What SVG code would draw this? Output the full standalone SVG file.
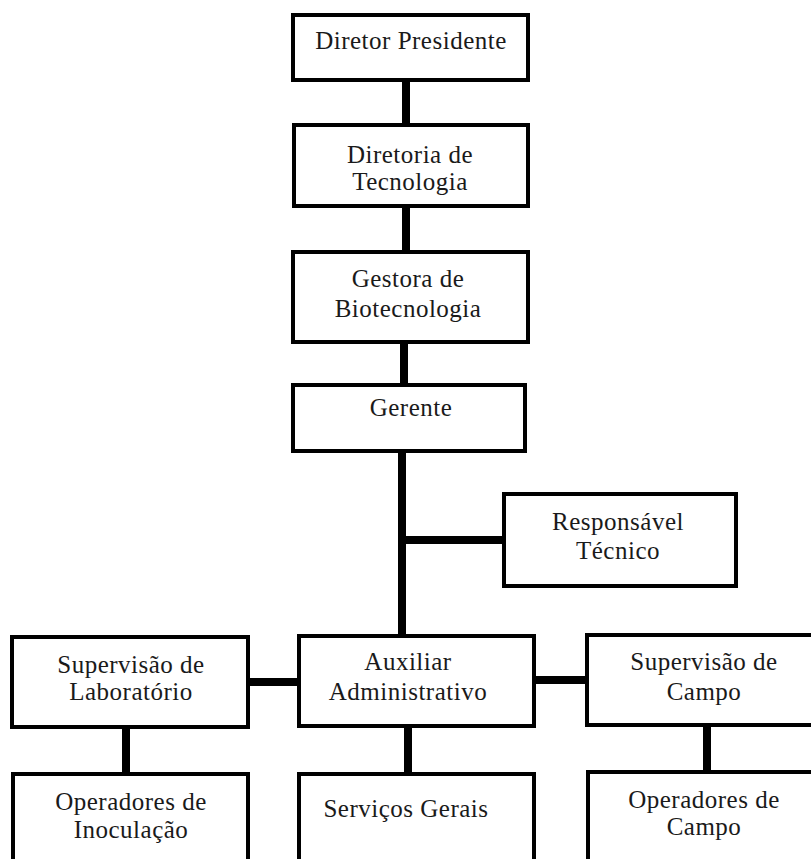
<svg xmlns="http://www.w3.org/2000/svg" width="811" height="859" viewBox="0 0 811 859">
<style>
.box{fill:#fff;stroke:#000;stroke-width:4}
.ln{stroke:#000;stroke-width:8;fill:none}
text{font-family:"Liberation Serif","Times New Roman",serif;font-size:25px;fill:#1a1a1a;text-anchor:middle;letter-spacing:0.5px}
</style>
<rect x="0" y="0" width="811" height="859" fill="#fff"/>
<g id="connectors">
<line class="ln" x1="406" y1="82" x2="406" y2="124"/>
<line class="ln" x1="406" y1="207" x2="406" y2="251"/>
<line class="ln" x1="404" y1="342" x2="404" y2="384"/>
<line class="ln" x1="402" y1="452" x2="402" y2="635"/>
<line class="ln" x1="402" y1="540" x2="503" y2="540"/>
<line class="ln" x1="248" y1="682" x2="298" y2="682"/>
<line class="ln" x1="534" y1="680" x2="586" y2="680"/>
<line class="ln" x1="126" y1="728" x2="126" y2="773"/>
<line class="ln" x1="408" y1="726" x2="408" y2="773"/>
<line class="ln" x1="707" y1="726" x2="707" y2="771"/>
</g>
<g id="diretor-presidente">
<rect class="box" x="293" y="15" width="235" height="65"/>
<text x="411" y="49">Diretor Presidente</text>
</g>
<g id="diretoria-tecnologia">
<rect class="box" x="294" y="125" width="234" height="81"/>
<text x="410" y="163">Diretoria de</text>
<text x="410" y="190">Tecnologia</text>
</g>
<g id="gestora-biotecnologia">
<rect class="box" x="293" y="252" width="235" height="90"/>
<text x="408" y="287">Gestora de</text>
<text x="408" y="317">Biotecnologia</text>
</g>
<g id="gerente">
<rect class="box" x="293" y="385" width="232" height="66"/>
<text x="411" y="416">Gerente</text>
</g>
<g id="responsavel-tecnico">
<rect class="box" x="504" y="494" width="232" height="92"/>
<text x="618" y="530">Responsável</text>
<text x="618" y="559">Técnico</text>
</g>
<g id="supervisao-laboratorio">
<rect class="box" x="12" y="637" width="236" height="90"/>
<text x="131" y="673">Supervisão de</text>
<text x="131" y="700">Laboratório</text>
</g>
<g id="auxiliar-administrativo">
<rect class="box" x="299" y="636" width="235" height="90"/>
<text x="408" y="670">Auxiliar</text>
<text x="408" y="700">Administrativo</text>
</g>
<g id="supervisao-campo">
<rect class="box" x="587" y="635" width="240" height="90"/>
<text x="704" y="670">Supervisão de</text>
<text x="704" y="700">Campo</text>
</g>
<g id="operadores-inoculacao">
<rect class="box" x="13" y="774" width="235" height="110"/>
<text x="131" y="810">Operadores de</text>
<text x="131" y="838">Inoculação</text>
</g>
<g id="servicos-gerais">
<rect class="box" x="299" y="774" width="235" height="110"/>
<text x="406" y="817">Serviços Gerais</text>
</g>
<g id="operadores-campo">
<rect class="box" x="588" y="772" width="240" height="110"/>
<text x="704" y="808">Operadores de</text>
<text x="704" y="835">Campo</text>
</g>
</svg>
